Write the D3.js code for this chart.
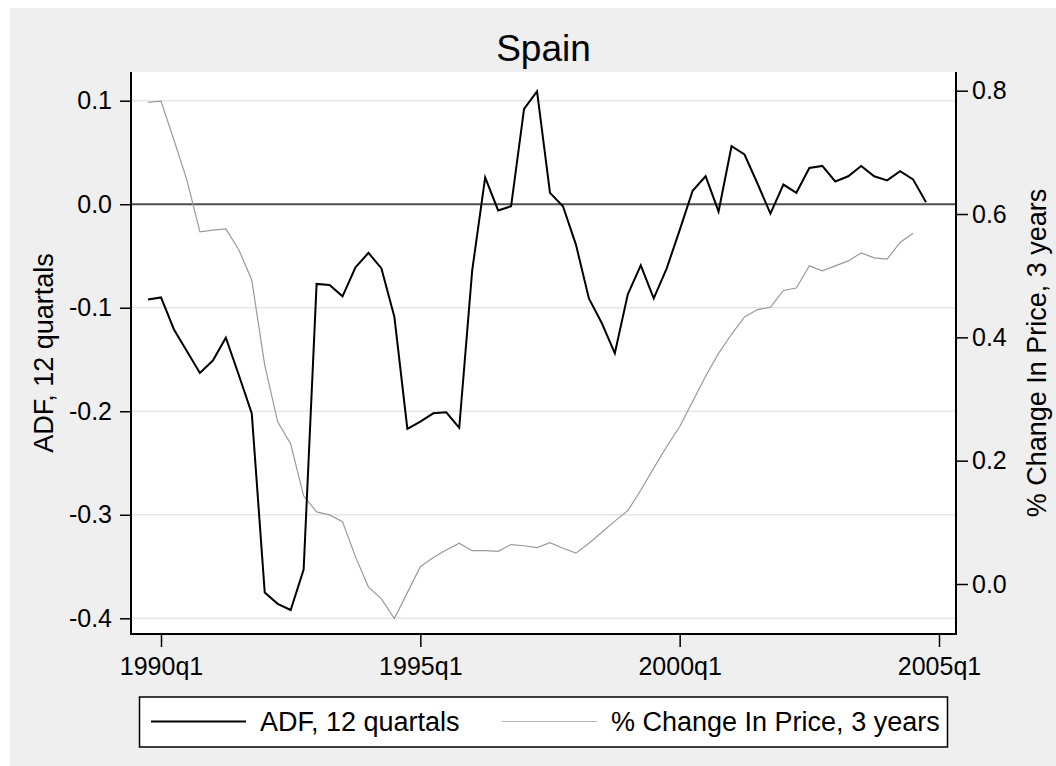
<!DOCTYPE html>
<html>
<head>
<meta charset="utf-8">
<script src="https://cdn.jsdelivr.net/npm/d3@7"></script>
<style>
body { margin: 0; background: #fff; }
text { font-family: "Liberation Sans", Arial, sans-serif; fill: #000; }
</style>
</head>
<body>
<div class="canvas"></div>
<script>
// create svg element:
var svg = d3.select(".canvas").append("svg").attr("width", 1056).attr("height", 766)

// quarters counted like Stata: 0 = 1960q1, so 119 = 1989q4
var firstQuarter = 119

// ADF, 12 quartals (1989q4 .. 2004q4)
var adf = [-0.092, -0.090, -0.121, -0.142, -0.163, -0.151, -0.129, -0.165, -0.202, -0.375,
           -0.386, -0.392, -0.353, -0.077, -0.078, -0.089, -0.061, -0.047, -0.062, -0.109,
           -0.217, -0.210, -0.202, -0.201, -0.216, -0.064, 0.026, -0.006, -0.002, 0.092,
           0.109, 0.011, -0.002, -0.039, -0.091, -0.115, -0.144, -0.087, -0.059, -0.091,
           -0.062, -0.025, 0.013, 0.027, -0.007, 0.056, 0.048, 0.020, -0.009, 0.019,
           0.011, 0.035, 0.037, 0.022, 0.027, 0.037, 0.027, 0.023, 0.032, 0.024, 0.002]

// % Change In Price, 3 years (1989q4 .. 2004q3)
var pctChange = [0.781, 0.783, 0.720, 0.655, 0.571, 0.574, 0.576, 0.542, 0.493, 0.355,
                 0.263, 0.227, 0.143, 0.117, 0.112, 0.101, 0.044, -0.005, -0.024, -0.056,
                 -0.014, 0.028, 0.043, 0.055, 0.066, 0.054, 0.054, 0.053, 0.064, 0.062,
                 0.059, 0.067, 0.058, 0.050, 0.066, 0.084, 0.102, 0.119, 0.152, 0.188,
                 0.223, 0.255, 0.296, 0.337, 0.374, 0.405, 0.433, 0.445, 0.449, 0.476,
                 0.480, 0.516, 0.508, 0.516, 0.524, 0.537, 0.529, 0.527, 0.554, 0.569]

var leftTicks = [0.1, 0.0, -0.1, -0.2, -0.3, -0.4]
var rightTicks = [0.8, 0.6, 0.4, 0.2, 0.0]
var xTicks = [120, 140, 160, 180]   // 1990q1, 1995q1, 2000q1, 2005q1

var titleText = "Spain"
var leftTitle = "ADF, 12 quartals"
var rightTitle = "% Change In Price, 3 years"

// plot region
var plot = {'x0': 131, 'x1': 956, 'y0': 72, 'y1': 634}

function quarterLabel(q) {
    return (Math.floor(q / 4) + 1960) + "q" + (q % 4 + 1)
}

var x = d3.scaleLinear().domain([120, 180]).range([161, 939])
var yL = d3.scaleLinear().domain([-0.4, 0.1]).range([618.3, 100.7])
var yR = d3.scaleLinear().domain([0, 0.8]).range([584, 90.7])

// Gray outer background
svg.append('rect')
    .attr('x', 10).attr('y', 8)
    .attr('width', 1046).attr('height', 758)
    .attr('fill', '#efefef')

// White plot region
svg.append('rect')
    .attr('x', plot.x0).attr('y', plot.y0)
    .attr('width', plot.x1 - plot.x0).attr('height', plot.y1 - plot.y0)
    .attr('fill', '#ffffff')

// Grid lines on the left axis ticks
svg.selectAll('.grid')
    .data(leftTicks)
    .enter().append('line')
    .attr('x1', plot.x0).attr('x2', plot.x1)
    .attr('y1', d => yL(d)).attr('y2', d => yL(d))
    .attr('stroke', '#e6e6e6')
    .attr('stroke-width', 1.5)

// Zero line
svg.append('line')
    .attr('x1', plot.x0).attr('x2', plot.x1)
    .attr('y1', yL(0)).attr('y2', yL(0))
    .attr('stroke', '#505050')
    .attr('stroke-width', 2)

// % change line (right axis)
var pctLine = d3.line()
    .x((d, i) => x(firstQuarter + i))
    .y(d => yR(d))

svg.append('path')
    .datum(pctChange)
    .attr('d', pctLine)
    .attr('fill', 'none')
    .attr('stroke', '#9a9a9a')
    .attr('stroke-width', 1.2)

// ADF line (left axis)
var adfLine = d3.line()
    .x((d, i) => x(firstQuarter + i))
    .y(d => yL(d))

svg.append('path')
    .datum(adf)
    .attr('d', adfLine)
    .attr('fill', 'none')
    .attr('stroke', '#000')
    .attr('stroke-width', 2)
    .attr('stroke-linejoin', 'miter')

// Axes
function styleAxis(g, size) {
    g.select('.domain').remove()
    g.selectAll('.tick line').attr('stroke', '#000').attr('stroke-width', 1.5)
    g.selectAll('.tick text')
        .attr('font-family', '"Liberation Sans", Arial, sans-serif')
        .attr('font-size', size)
        .attr('fill', '#000')
    g.attr('font-size', null).attr('font-family', null)
}

svg.append('g')
    .attr('transform', 'translate(' + plot.x0 + ',0)')
    .call(d3.axisLeft(yL).tickValues(leftTicks).tickSize(11).tickPadding(8)
        .tickFormat(d => d.toFixed(1)))
    .call(g => styleAxis(g, 25))

svg.append('g')
    .attr('transform', 'translate(' + plot.x1 + ',0)')
    .call(d3.axisRight(yR).tickValues(rightTicks).tickSize(12).tickPadding(4)
        .tickFormat(d => d.toFixed(1)))
    .call(g => styleAxis(g, 25))

svg.append('g')
    .attr('transform', 'translate(0,' + plot.y1 + ')')
    .call(d3.axisBottom(x).tickValues(xTicks).tickSize(13).tickPadding(10)
        .tickFormat(quarterLabel))
    .call(g => styleAxis(g, 25))

// Axis lines: left, bottom, right
svg.append('path')
    .attr('d', 'M' + plot.x0 + ',' + plot.y0 + 'V' + plot.y1 + 'H' + plot.x1 + 'V' + plot.y0)
    .attr('fill', 'none')
    .attr('stroke', '#000')
    .attr('stroke-width', 2)

// Title
svg.append('text')
    .attr('x', (plot.x0 + plot.x1) / 2)
    .attr('y', 61)
    .attr('text-anchor', 'middle')
    .attr('font-size', 37)
    .text(titleText)

// Axis titles
svg.append('text')
    .attr('transform', 'translate(53,' + (plot.y0 + plot.y1) / 2 + ') rotate(-90)')
    .attr('text-anchor', 'middle')
    .attr('font-size', 27)
    .text(leftTitle)

svg.append('text')
    .attr('transform', 'translate(1046,' + (plot.y0 + plot.y1) / 2 + ') rotate(-90)')
    .attr('text-anchor', 'middle')
    .attr('font-size', 27)
    .text(rightTitle)

// Legend
var legend = svg.append('g')
legend.append('rect')
    .attr('x', 139.5).attr('y', 697)
    .attr('width', 808).attr('height', 50)
    .attr('fill', '#fff')
    .attr('stroke', '#000')
    .attr('stroke-width', 1.5)

var legendItems = [
    {'label': leftTitle, 'x': 151, 'color': '#000', 'width': 2},
    {'label': rightTitle, 'x': 502, 'color': '#b4b4b4', 'width': 1.2}
]

legendItems.forEach(function(item) {
    legend.append('line')
        .attr('x1', item.x).attr('x2', item.x + 95)
        .attr('y1', 721.5).attr('y2', 721.5)
        .attr('stroke', item.color)
        .attr('stroke-width', item.width)
    legend.append('text')
        .attr('x', item.x + 109)
        .attr('y', 731)
        .attr('font-size', 27)
        .text(item.label)
})
</script>
</body>
</html>
